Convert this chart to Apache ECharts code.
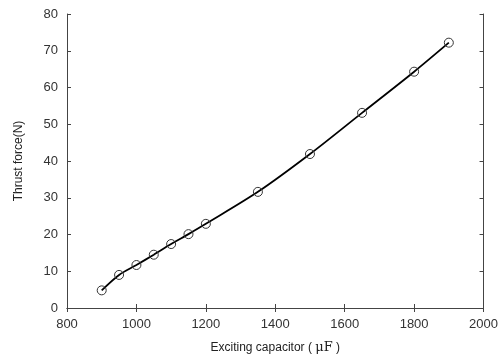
<!DOCTYPE html>
<html><head><meta charset="utf-8">
<script src="https://cdn.jsdelivr.net/npm/echarts@6/dist/echarts.min.js"></script>
<style>html,body{margin:0;padding:0;background:#fff}#c{width:501px;height:360px}</style>
</head><body><div id="c"></div>
<script>
const capacitance = [900, 950, 1000, 1050, 1100, 1150, 1200, 1350, 1500, 1650, 1800, 1900];
const thrust = [4.8, 9.0, 11.7, 14.5, 17.4, 20.1, 22.9, 31.6, 41.9, 53.1, 64.3, 72.2];
const xTicks = [800, 1000, 1200, 1400, 1600, 1800, 2000];
const yTicks = [0, 10, 20, 30, 40, 50, 60, 70, 80];

const pts = capacitance.map((c, i) => [c, thrust[i]]);
const chart = echarts.init(document.getElementById('c'), null, {renderer: 'canvas'});
const lineC = '#444';
const font = 'Liberation Sans, Arial, sans-serif';
const axisCommon = {
  axisLine: {show: true, lineStyle: {color: lineC, width: 1}},
  axisTick: {show: true, inside: true, length: 4, lineStyle: {color: lineC}},
  splitLine: {show: false}
};
chart.setOption({
  animation: false,
  grid: {left: 67, right: 16, top: 14, bottom: 52},
  xAxis: [
    Object.assign({type: 'value', min: xTicks[0], max: xTicks[xTicks.length-1], interval: 200,
      position: 'bottom',
      axisLabel: {color: '#333', fontSize: 13, fontFamily: font, margin: 10, formatter: v => String(v)},
      name: '{a|Exciting capacitor ( }{b|μF}{a| )}',
      nameLocation: 'middle', nameGap: 33,
      nameTextStyle: {rich: {a: {fontSize: 12, fontFamily: font, color: '#222'}, b: {fontSize: 13, fontFamily: 'DejaVu Serif, Liberation Serif, serif', color: '#222'}}}
    }, axisCommon),
    Object.assign({type: 'value', min: xTicks[0], max: xTicks[xTicks.length-1], interval: 200,
      position: 'top', axisLabel: {show: false}}, axisCommon)
  ],
  yAxis: [
    Object.assign({type: 'value', min: yTicks[0], max: yTicks[yTicks.length-1], interval: 10,
      position: 'left',
      axisLabel: {color: '#333', fontSize: 13, fontFamily: font, margin: 9},
      name: 'Thrust force(N)', nameLocation: 'middle', nameGap: 42,
      nameTextStyle: {fontSize: 12, fontFamily: font, color: '#222'}
    }, axisCommon),
    Object.assign({type: 'value', min: yTicks[0], max: yTicks[yTicks.length-1], interval: 10,
      position: 'right', axisLabel: {show: false}}, axisCommon)
  ],
  series: [{
    type: 'line', data: pts, smooth: 0.3,
    symbol: 'circle', symbolSize: 9,
    lineStyle: {color: '#000', width: 1.8},
    itemStyle: {color: 'rgba(255,255,255,0)', borderColor: '#333', borderWidth: 1},
    z: 3
  }]
});
</script></body></html>
